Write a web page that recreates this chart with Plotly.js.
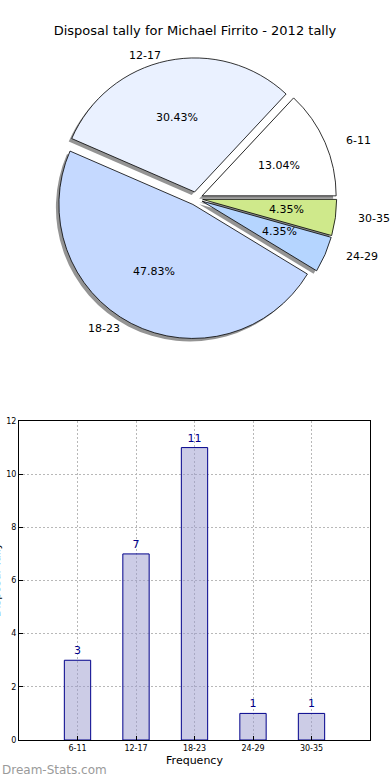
<!DOCTYPE html>
<html>
<head>
<meta charset="utf-8">
<script src="https://cdn.plot.ly/plotly-3.0.1.min.js"></script>
<style>
  html, body { margin: 0; padding: 0; background: #fff; }
  #chart { width: 390px; height: 780px; }
</style>
</head>
<body>
<div id="chart"></div>
<script>
// ---- data ----
const categories = ['6-11', '12-17', '18-23', '24-29', '30-35'];
const tally = [3, 7, 11, 1, 1];
const sliceColors = ['#ffffff', '#eaf1ff', '#c5d9ff', '#b5d5ff', '#cfe98b'];
const titleText = 'Disposal tally for Michael Firrito - 2012 tally';
const barAxisTitle = 'Frequency';
const valueAxisTitle = 'Disposal Tally';
const watermark = 'Dream-Stats.com';

// ---- layout geometry ----
const W = 390, H = 780;
const font = 'DejaVu Sans, sans-serif';
const explode = 0.05;
const pieCx = 196, pieCy = 198.5, pieR = 134;
const txtRx = 140, txtRy = 127; // text placement radii
const boxHalf = pieR * (1 + explode);
const pieDomain = {
  x: [(pieCx - boxHalf) / W, (pieCx + boxHalf) / W],
  y: [1 - (pieCy + boxHalf) / H, 1 - (pieCy - boxHalf) / H]
};
const shadowDx = -3, shadowDy = 3;
const shadowDomain = {
  x: [pieDomain.x[0] + shadowDx / W, pieDomain.x[1] + shadowDx / W],
  y: [pieDomain.y[0] - shadowDy / H, pieDomain.y[1] - shadowDy / H]
};

const total = tally.reduce((a, b) => a + b, 0);
// first slice starts at 3 o'clock and slices run counterclockwise
const pieRotation = 90 - 360 * tally[0] / total;
const pulls = tally.map(() => explode);

const shadowPie = {
  type: 'pie', labels: categories, values: tally, sort: false,
  direction: 'counterclockwise', rotation: pieRotation, pull: pulls,
  marker: { colors: tally.map(() => 'rgba(60,60,60,0.55)'), line: { width: 0 } },
  textinfo: 'none', hoverinfo: 'skip', showlegend: false, domain: shadowDomain
};
const pie = {
  type: 'pie', labels: categories, values: tally, sort: false,
  direction: 'counterclockwise', rotation: pieRotation, pull: pulls,
  marker: { colors: sliceColors, line: { color: '#000', width: 0.8 } },
  textinfo: 'none', hoverinfo: 'label+value', showlegend: false, domain: pieDomain
};

const bars = {
  type: 'bar', x: categories, y: tally, width: 0.45,
  marker: { color: 'rgba(153,153,205,0.5)', line: { color: '#00008b', width: 1 } },
  text: tally.map(String), textposition: 'outside', cliponaxis: false,
  textfont: { family: font, size: 11, color: '#00008b' },
  xaxis: 'x', yaxis: 'y', showlegend: false, hoverinfo: 'x+y'
};

// ---- pie text annotations derived from values ----
const annotations = [];
let cum = 0;
tally.forEach((v, i) => {
  const mid = (cum + v / 2) / total * 2 * Math.PI;
  cum += v;
  const c = Math.cos(mid), s = Math.sin(mid);
  const pctX = pieCx + (explode + 0.6) * txtRx * c;
  const pctY = pieCy - (explode + 0.6) * txtRy * s;
  annotations.push({
    xref: 'paper', yref: 'paper', x: pctX / W, y: 1 - pctY / H,
    text: (v / total * 100).toFixed(2) + '%', showarrow: false,
    xanchor: 'center', yanchor: 'middle',
    font: { family: font, size: 11, color: '#000' }
  });
  const labX = pieCx + (explode + 1.1) * txtRx * c;
  const labY = pieCy - (explode + 1.1) * txtRy * s;
  annotations.push({
    xref: 'paper', yref: 'paper', x: labX / W, y: 1 - labY / H,
    text: categories[i], showarrow: false,
    xanchor: c > 0 ? 'left' : 'right', yanchor: 'middle',
    font: { family: font, size: 11, color: '#000' }
  });
});
annotations.push({
  xref: 'paper', yref: 'paper', x: -4 / W, y: 1 - 580 / H,
  text: valueAxisTitle, textangle: -90, showarrow: false,
  xanchor: 'center', yanchor: 'middle',
  font: { family: font, size: 11, color: '#000' }
});
annotations.push({
  xref: 'paper', yref: 'paper', x: 0, y: 1 - 770 / H,
  text: watermark, showarrow: false, xanchor: 'left', yanchor: 'middle',
  font: { family: font, size: 12, color: '#9a9a9a' }
});

const gridStyle = { showgrid: true, gridcolor: '#b8b8b8', griddash: '2px,2px', gridwidth: 1 };

const layout = {
  width: W, height: H,
  margin: { l: 0, r: 0, t: 0, b: 0 },
  paper_bgcolor: '#fff', plot_bgcolor: '#fff',
  font: { family: font, color: '#000' },
  title: {
    text: titleText, x: 0.5, xanchor: 'center', y: 1 - 30 / H, yanchor: 'middle',
    font: { family: font, size: 13, color: '#000' }
  },
  xaxis: Object.assign({
    domain: [19 / W, 370 / W], type: 'category', range: [-1, 5],
    showline: true, mirror: true, linecolor: '#000', linewidth: 1,
    ticks: 'inside', ticklen: 4, tickcolor: '#000',
    tickfont: { family: font, size: 8, color: '#000' },
    title: { text: barAxisTitle, font: { family: font, size: 11, color: '#000' }, standoff: 4 },
    automargin: false, zeroline: false, fixedrange: true
  }, gridStyle),
  yaxis: Object.assign({
    domain: [1 - 740 / H, 1 - 421 / H], range: [0, 12], dtick: 2,
    showline: true, mirror: true, linecolor: '#000', linewidth: 1,
    ticks: 'inside', ticklen: 4, tickcolor: '#000',
    tickfont: { family: font, size: 8, color: '#000' },
    automargin: false, zeroline: false, fixedrange: true
  }, gridStyle),
  annotations: annotations
};

Plotly.newPlot('chart', [shadowPie, pie, bars], layout, { displayModeBar: false, staticPlot: true });
</script>
</body>
</html>
